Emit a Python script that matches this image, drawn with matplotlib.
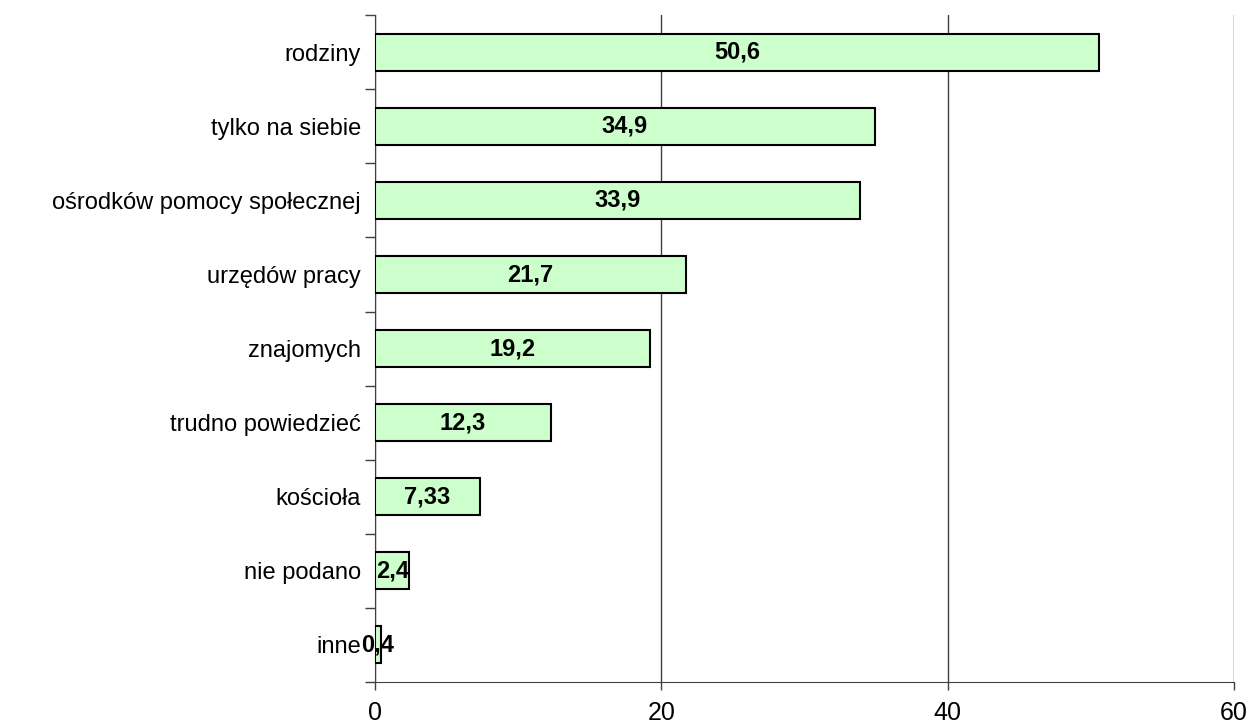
import numpy as np
import matplotlib.pyplot as plt

# categories listed top to bottom
labels = ['rodziny', 'tylko na siebie', 'ośrodków pomocy społecznej',
          'urzędów pracy', 'znajomych', 'trudno powiedzieć', 'kościoła',
          'nie podano', 'inne']
values = [50.6, 34.9, 33.9, 21.7, 19.2, 12.3, 7.33, 2.4, 0.4]
value_text = ['50,6', '34,9', '33,9', '21,7', '19,2', '12,3', '7,33', '2,4', '0,4']
xticks = [0, 20, 40, 60]

plt.rcParams['font.family'] = ['Liberation Sans', 'DejaVu Sans']

fig = plt.figure(figsize=(12.52, 7.27), dpi=100)
ax = fig.add_axes([0.2995, 0.062, 0.6861, 0.917])

n = len(labels)
ypos = np.arange(n)[::-1]
ax.barh(ypos, values, height=0.5, color='#CCFFCC', edgecolor='black',
        linewidth=1.5, zorder=3)
for y, v, t in zip(ypos, values, value_text):
    ax.text(v / 2, y, t, ha='center', va='center', fontsize=17,
            fontweight='bold', zorder=4)

ax.set_xlim(0, 60)
ax.set_ylim(-0.5, n - 0.5)
ax.set_xticks(xticks)
ax.set_xticklabels([str(x) for x in xticks], fontsize=18)
ax.tick_params(axis='x', length=6, width=1, pad=8, color='#404040')
ax.xaxis.grid(True, color='#404040', linewidth=1, zorder=0)

ax.set_yticks(ypos)
ax.set_yticklabels(labels, fontsize=17)
ax.tick_params(axis='y', which='major', length=0, pad=10)
ax.set_yticks(np.arange(n + 1) - 0.5, minor=True)
ax.tick_params(axis='y', which='minor', length=7, width=1, color='#404040')

for s in ['top', 'right']:
    ax.spines[s].set_visible(False)
ax.spines['left'].set_color('#404040')
ax.spines['bottom'].set_color('#404040')

fig.savefig('out.png', dpi=100)
